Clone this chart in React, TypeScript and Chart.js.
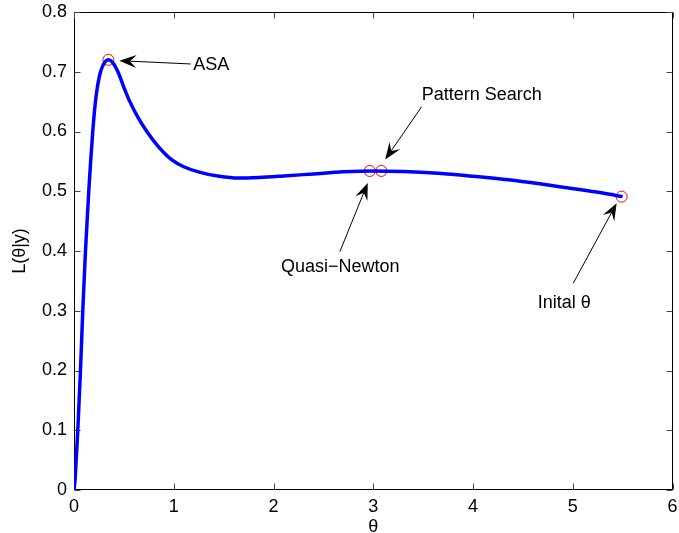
import React, { useEffect, useRef } from 'react';
import { Chart, registerables } from 'chart.js';

Chart.register(...registerables);

// likelihood curve L(theta|y)
const curveX = [0, 0.012, 0.02, 0.038, 0.065, 0.088, 0.115, 0.148, 0.167, 0.188, 0.215, 0.24, 0.27, 0.305, 0.345, 0.39, 0.44, 0.5, 0.56, 0.64, 0.73, 0.85, 0.985, 1.1, 1.255, 1.455, 1.65, 1.855, 2.1, 2.4, 2.7, 3.0, 3.3, 3.65, 4.0, 4.3, 4.65, 4.85, 5.1, 5.3, 5.5];
const curveY = [0, 0.02, 0.045, 0.1, 0.2, 0.3, 0.4, 0.5, 0.55, 0.6, 0.65, 0.68, 0.702, 0.715, 0.72, 0.715, 0.7, 0.674, 0.65, 0.624, 0.6, 0.574, 0.552, 0.541, 0.532, 0.525, 0.522, 0.523, 0.5255, 0.529, 0.5325, 0.534, 0.533, 0.53, 0.525, 0.52, 0.513, 0.508, 0.502, 0.497, 0.491];

// optimiser end points
const markerX = [0.345, 2.965, 3.08, 5.49];
const markerY = [0.72, 0.534, 0.534, 0.491];

const xTicks = [0, 1, 2, 3, 4, 5, 6];
const yTicks = [0, 0.1, 0.2, 0.3, 0.4, 0.5, 0.6, 0.7, 0.8];

// annotations (data coordinates)
const noteText = ['ASA', 'Pattern Search', 'Quasi\u2212Newton', 'Inital \u03b8'];
const noteX = [1.195, 3.485, 2.67, 4.915];
const noteY = [0.712, 0.661, 0.374, 0.3135];
const noteAlign = ['left', 'left', 'center', 'center'];
const tailX = [1.17, 3.485, 2.665, 5.005];
const tailY = [0.713, 0.6415, 0.3988, 0.346];
const tipX = [0.455, 3.12, 2.945, 5.44];
const tipY = [0.7185, 0.553, 0.514, 0.48];

const FONT = '"Liberation Sans", Arial, Helvetica, sans-serif';

const boxPlugin = {
  id: 'matlabBox',
  beforeDatasetsDraw(chart: any) {
    const { ctx, chartArea: a, scales } = chart;
    const xs = scales.x;
    const ys = scales.y;
    ctx.save();
    ctx.strokeStyle = '#000';
    ctx.lineWidth = 1;
    const L = Math.round(a.left) + 0.5;
    const R = Math.round(a.right) - 0.5;
    const T = Math.round(a.top) + 0.5;
    const B = Math.round(a.bottom) - 0.5;
    ctx.strokeRect(L, T, R - L, B - T);
    ctx.strokeStyle = '#444';
    const tl = 6;
    ctx.beginPath();
    xTicks.forEach((v) => {
      const px = Math.round(xs.getPixelForValue(v)) + 0.5;
      ctx.moveTo(px, B);
      ctx.lineTo(px, B - tl);
      ctx.moveTo(px, T);
      ctx.lineTo(px, T + tl);
    });
    yTicks.forEach((v) => {
      const py = Math.round(ys.getPixelForValue(v)) + 0.5;
      ctx.moveTo(L, py);
      ctx.lineTo(L + tl, py);
      ctx.moveTo(R, py);
      ctx.lineTo(R - tl, py);
    });
    ctx.stroke();
    ctx.restore();
  },
};

const notePlugin = {
  id: 'notes',
  afterDatasetsDraw(chart: any) {
    const { ctx, scales } = chart;
    const xs = scales.x;
    const ys = scales.y;
    ctx.save();
    ctx.fillStyle = '#000';
    ctx.strokeStyle = '#000';
    ctx.lineWidth = 1;
    ctx.font = '18px ' + FONT;
    ctx.textBaseline = 'middle';
    noteText.forEach((t, i) => {
      ctx.textAlign = noteAlign[i] as CanvasTextAlign;
      ctx.fillText(t, xs.getPixelForValue(noteX[i]), ys.getPixelForValue(noteY[i]));
      const x0 = xs.getPixelForValue(tailX[i]);
      const y0 = ys.getPixelForValue(tailY[i]);
      const x1 = xs.getPixelForValue(tipX[i]);
      const y1 = ys.getPixelForValue(tipY[i]);
      const ang = Math.atan2(y1 - y0, x1 - x0);
      const HL = 17;
      const HW = 6.5;
      const back = 0.62 * HL;
      ctx.beginPath();
      ctx.moveTo(x0, y0);
      ctx.lineTo(x1 - Math.cos(ang) * back, y1 - Math.sin(ang) * back);
      ctx.stroke();
      ctx.save();
      ctx.translate(x1, y1);
      ctx.rotate(ang);
      ctx.beginPath();
      ctx.moveTo(0, 0);
      ctx.lineTo(-HL, HW);
      ctx.lineTo(-back, 0);
      ctx.lineTo(-HL, -HW);
      ctx.closePath();
      ctx.fill();
      ctx.restore();
    });
    ctx.restore();
  },
};

export default function App() {
  const ref = useRef<HTMLCanvasElement | null>(null);
  useEffect(() => {
    if (!ref.current) return;
    const chart = new Chart(ref.current, {
      type: 'scatter',
      data: {
        datasets: [
          {
            data: curveX.map((x, i) => ({ x, y: curveY[i] })),
            showLine: true,
            borderColor: '#0000ff',
            borderWidth: 3.5,
            pointRadius: 0,
            cubicInterpolationMode: 'monotone',
            fill: false,
          },
          {
            data: markerX.map((x, i) => ({ x, y: markerY[i] })),
            showLine: false,
            pointStyle: 'circle',
            pointRadius: 5.5,
            pointBorderColor: '#ff0000',
            pointBackgroundColor: 'rgba(0,0,0,0)',
            pointBorderWidth: 1,
          },
        ],
      },
      options: {
        responsive: false,
        animation: false,
        devicePixelRatio: 1,
        layout: { padding: { top: 12, right: 5, left: 0, bottom: 0 } },
        plugins: { legend: { display: false }, tooltip: { enabled: false } },
        scales: {
          x: {
            type: 'linear',
            min: 0,
            max: 6,
            afterFit: (s: any) => { s.height = 43; s.paddingLeft = 0; s.paddingRight = 0; },
            afterBuildTicks: (s: any) => { s.ticks = xTicks.map((v) => ({ value: v })); },
            grid: { display: false, drawTicks: false },
            border: { display: false },
            ticks: { color: '#000', font: { family: FONT, size: 18 }, padding: 6, callback: (v: any) => String(v) },
            title: { display: true, text: '\u03b8', color: '#000', font: { family: FONT, size: 18, lineHeight: 0.66 }, padding: 0 },
          },
          y: {
            type: 'linear',
            min: 0,
            max: 0.8,
            afterFit: (s: any) => { s.width = 74; s.paddingTop = 0; s.paddingBottom = 0; },
            afterBuildTicks: (s: any) => { s.ticks = yTicks.map((v) => ({ value: v })); },
            grid: { display: false, drawTicks: false },
            border: { display: false },
            ticks: { color: '#000', font: { family: FONT, size: 18 }, padding: 7, callback: (v: any) => String(Math.round(v * 10) / 10) },
            title: { display: true, text: 'L(\u03b8|y)', color: '#000', font: { family: FONT, size: 18 }, padding: { top: 9, bottom: 0 } },
          },
        },
      },
      plugins: [boxPlugin, notePlugin],
    });
    return () => chart.destroy();
  }, []);
  return (
    <div style={{ position: 'fixed', left: 0, top: 0, width: 679, height: 533, background: '#fff' }}>
      <canvas ref={ref} width={679} height={533} style={{ display: 'block' }} />
    </div>
  );
}
